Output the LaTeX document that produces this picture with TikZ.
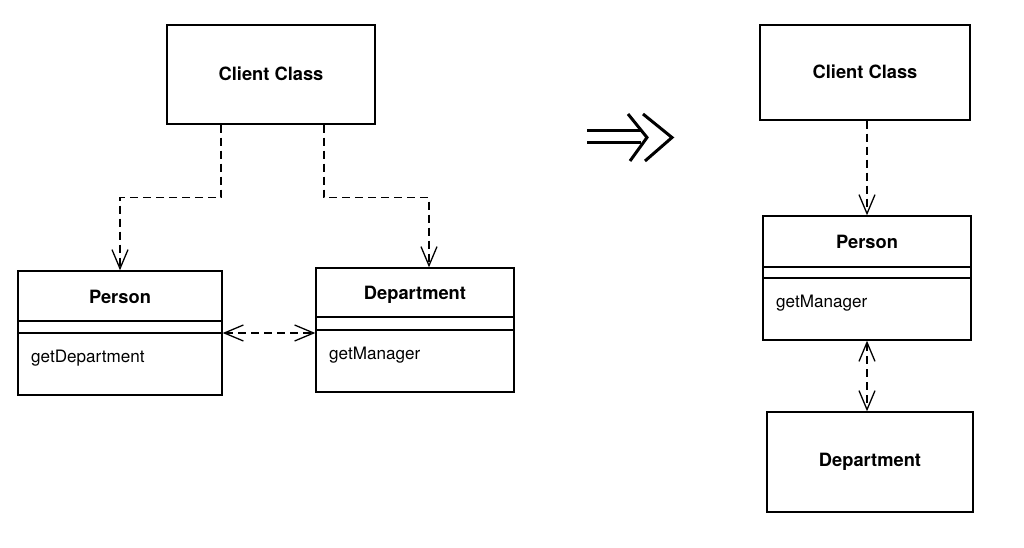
\documentclass[tikz,border=0pt]{standalone}
\usepackage{fontspec}
\setmainfont{TeX Gyre Heros}
\usetikzlibrary{arrows.meta}
\tikzset{
  box/.style={draw, line width=1.4bp, rectangle, inner sep=0pt},
  title/.style={font=\fontsize{18.3bp}{21bp}\selectfont\bfseries, inner sep=0pt},
  meth/.style={font=\fontsize{17.1bp}{20bp}\selectfont, inner sep=0pt, anchor=west},
  divider/.style={line width=1.4bp},
  barb/.tip={Straight Barb[length=19bp, width=16bp, line width=1.3bp]},
  dep/.style={line width=1.3bp, dash pattern=on 8bp off 5bp, -barb},
  bidep/.style={line width=1.3bp, dash pattern=on 8bp off 5bp, barb-barb},
  implies/.style={line width=3bp},
}
\begin{document}
\begin{tikzpicture}[x=1bp, y=-1bp]
\useasboundingbox (0,0) rectangle (1024,548);
% ---- left diagram ----
\node[box, minimum width=208bp, minimum height=99bp] (cl) at (271,74.5) {};
\node[title] (clt) at (271,74) {Client Class};

\node[box, minimum width=204bp, minimum height=124bp] (p1) at (120,333) {};
\node[title] (p1t) at (120,297) {Person};
\coordinate (p1a) at (18,321); \coordinate (p1b) at (222,321);
\draw[divider] (p1a) -- (p1b);
\draw[divider] (p1.west) -- (p1.east);
\node[meth] (p1m) at (31,358) {getDepartment};

\node[box, minimum width=198bp, minimum height=124bp] (d1) at (415,330) {};
\node[title] (d1t) at (415,295) {Department};
\coordinate (d1a) at (316,317); \coordinate (d1b) at (514,317);
\draw[divider] (d1a) -- (d1b);
\draw[divider] (d1.west) -- (d1.east);
\node[meth] (d1m) at (329,355) {getManager};

\draw[dep] ([xshift=-50bp]cl.south) -- ++(0,73) -| (p1.north);
\draw[dep] ([xshift=53bp]cl.south) -- ++(0,73) -| ([xshift=14bp]d1.north);
\draw[bidep] (p1.east) -- (p1.east -| d1.west);

% ---- implies arrow ----
\coordinate (i1) at (587,131); \coordinate (i2) at (641,131);
\coordinate (i3) at (587,143); \coordinate (i4) at (641,143);
\coordinate (c1a) at (628,114); \coordinate (c1b) at (647,137.5); \coordinate (c1c) at (630,161);
\coordinate (c2a) at (643,114); \coordinate (c2b) at (672,137.5); \coordinate (c2c) at (645,161);
\draw[implies] (i1) -- (i2);
\draw[implies] (i3) -- (i4);
\draw[implies] (c1a) -- (c1b) -- (c1c);
\draw[implies] (c2a) -- (c2b) -- (c2c);

% ---- right diagram ----
\node[box, minimum width=210bp, minimum height=95bp] (c2) at (865,72.5) {};
\node[title] (c2t) at (865,72) {Client Class};

\node[box, minimum width=208bp, minimum height=124bp] (p2) at (867,278) {};
\node[title] (p2t) at (867,242) {Person};
\coordinate (p2a) at (763,267); \coordinate (p2b) at (971,267);
\draw[divider] (p2a) -- (p2b);
\draw[divider] (p2.west) -- (p2.east);
\node[meth] (p2m) at (776,303) {getManager};

\node[box, minimum width=206bp, minimum height=100bp] (d2) at (870,462) {};
\node[title] (d2t) at (870,462) {Department};

\draw[dep] (p2.north |- c2.south) -- (p2.north);
\draw[bidep] (p2.south) -- (p2.south |- d2.north);
\end{tikzpicture}
\end{document}
